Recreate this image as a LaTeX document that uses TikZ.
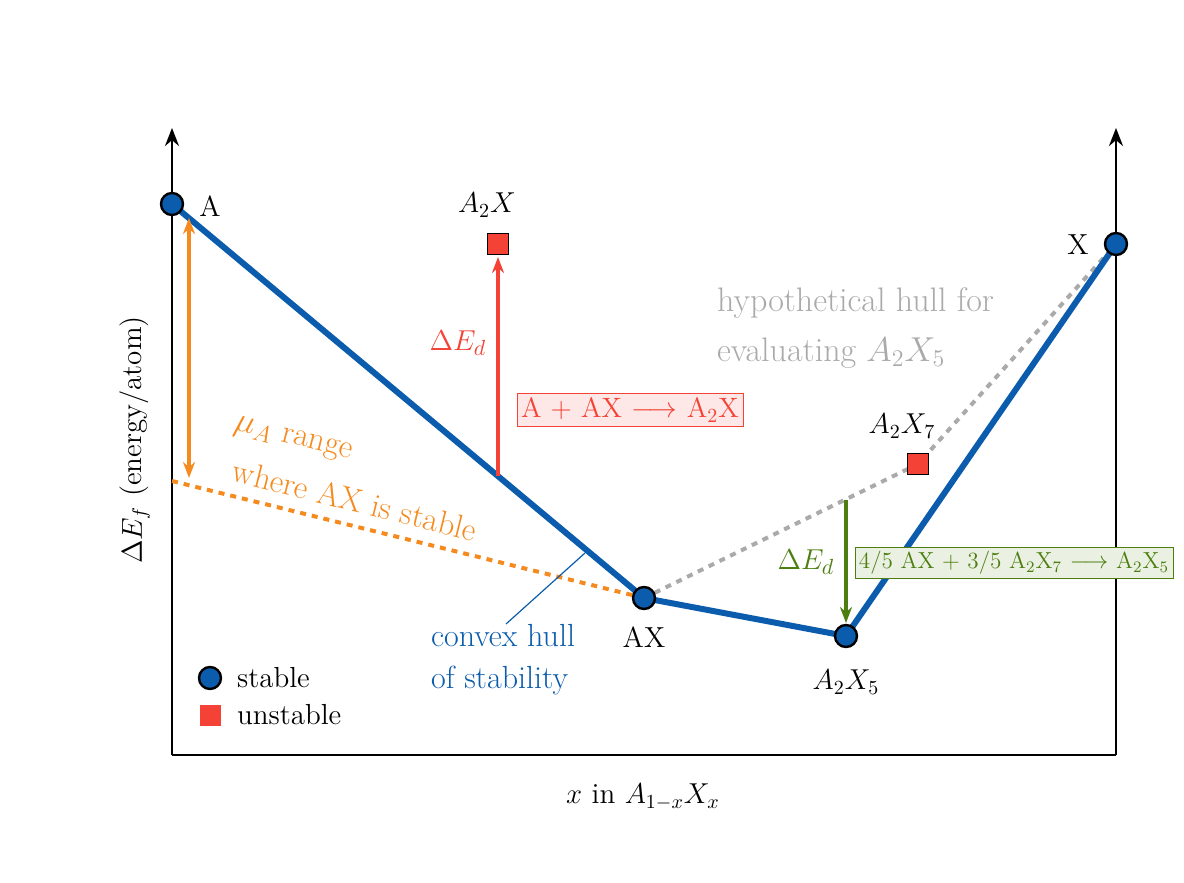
\documentclass[tikz,border=0pt]{standalone}
\usetikzlibrary{arrows.meta}
\definecolor{hullblue}{HTML}{0B5CAD}
\definecolor{orng}{HTML}{F58A1F}
\definecolor{rd}{HTML}{F44336}
\definecolor{grn}{HTML}{4C7F10}
\definecolor{gry}{HTML}{AAAAAA}
\begin{document}
\begin{tikzpicture}[x=0.5pt,y=-0.5pt,
 stablept/.style={circle,draw=black,fill=hullblue,line width=1.2pt,minimum size=11pt,inner sep=0pt},
 unstablept/.style={rectangle,draw=black,fill=rd,line width=0.6pt,minimum size=10.5pt,inner sep=0pt},
 hull/.style={hullblue,line width=3pt},
 axisline/.style={line width=1.4pt,black},
 lbl/.style={font=\fontsize{14.5}{17}\selectfont},
 rxbox/.style={draw, line width=0.4pt, inner sep=2pt}]
\useasboundingbox (0,0) rectangle (1184,883);
% axes
\coordinate (o) at (172,755); \coordinate (ytop) at (172,128);
\coordinate (r) at (1116,755); \coordinate (rtop) at (1116,128);
\draw[axisline,-{Stealth[length=9pt,width=7pt]}] (o) -- (ytop);
\draw[axisline,-{Stealth[length=9pt,width=7pt]}] (r) -- (rtop);
\draw[axisline] (o) -- (r);
% points coords
\coordinate (pA) at (172,204); \coordinate (pX) at (1116,244);
\coordinate (pAX) at (644,598); \coordinate (pA2X5) at (846,636);
\coordinate (pA2X7) at (918,464); \coordinate (pA2X) at (498,244);
\coordinate (oa) at (172,481);
% hypothetical hull
\draw[gry,dashed,line width=2pt] (pAX) -- (pA2X7) -- (pX);
% orange dashed
\draw[orng,dashed,line width=2pt] (oa) -- (pAX);
% hull
\draw[hull,line join=round] (pA) -- (pAX) -- (pA2X5) -- (pX);
% red arrow
\coordinate (rs) at (498,476); \coordinate (re) at (498,257);
\draw[rd,line width=2pt,-{Stealth[length=8pt,width=6pt]}] (rs) -- (re);
\node[rd,font=\fontsize{15}{17}\selectfont] (de1) at (458,343) {$\Delta E_d$};
\node[rxbox,draw=rd,fill=rd!12,text=rd,font=\fontsize{14}{16}\selectfont] (rx1) at (630,410) {A + AX $\longrightarrow$ A$_2$X};
% green arrow
\coordinate (gs) at (846,500); \coordinate (ge) at (846,623);
\draw[grn,line width=2pt,-{Stealth[length=8pt,width=6pt]}] (gs) -- (ge);
\node[grn,font=\fontsize{15}{17}\selectfont] (de2) at (806,562) {$\Delta E_d$};
\node[rxbox,draw=grn,fill=grn!12,text=grn,font=\fontsize{11.6}{13}\selectfont] (rx2) at (1014,563) {4/5 AX + 3/5 A$_2$X$_7$ $\longrightarrow$ A$_2$X$_5$};
% orange double arrow
\coordinate (oat) at (189,218); \coordinate (oab) at (189,478);
\draw[orng,line width=2pt,{Stealth[length=8pt,width=6pt]}-{Stealth[length=8pt,width=6pt]}] (oat) -- (oab);
\node[orng,rotate=-14,inner sep=0pt,font=\fontsize{16.5}{18}\selectfont] (mu1) at (293,440) {$\mu_A$ range};
\node[orng,rotate=-14,inner sep=0pt,font=\fontsize{16.5}{18}\selectfont] (mu2) at (355,500) {where AX is stable};
% convex hull label
\node[hullblue,align=left,fill=white,font=\fontsize{16}{21}\selectfont,anchor=west] (cv) at (424,660) {convex hull\\of stability};
\coordinate (cvp) at (585,553);
\draw[hullblue,line width=0.6pt] (cvp) -- (506,624);
% gray text
\node[gry,align=left,anchor=west,font=\fontsize{17}{25}\selectfont] (hyp) at (710,328) {hypothetical hull for\\evaluating $A_2X_5$};
% points
\node[stablept] (A) at (pA) {};
\node[stablept] (X) at (pX) {};
\node[stablept] (AX) at (pAX) {};
\node[stablept] (A2X5) at (pA2X5) {};
\node[unstablept] (A2X) at (pA2X) {};
\node[unstablept] (A2X7) at (pA2X7) {};
% labels
\node[lbl] (lA) at (210,206) {A};
\node[lbl] (lX) at (1078,245) {X};
\node[lbl] (lAX) at (644,637) {AX};
\node[lbl] (lA2X5) at (846,682) {$A_2X_5$};
\node[lbl] (lA2X) at (487,205) {$A_2X$};
\node[lbl] (lA2X7) at (902,426) {$A_2X_7$};
% legend
\node[stablept] (ls) at (210,678) {};
\node[lbl,anchor=west] (lst) at (230,678) {stable};
\node[unstablept,draw=none] (lu) at (210,715) {};
\node[lbl,anchor=west] (lut) at (230,715) {unstable};
% axis labels
\node[lbl,rotate=90] (yl) at (135,440) {$\Delta E_f$ (energy/atom)};
\node[lbl] (xl) at (643,797) {$x$ in $A_{1-x}X_x$};
\end{tikzpicture}
\end{document}
